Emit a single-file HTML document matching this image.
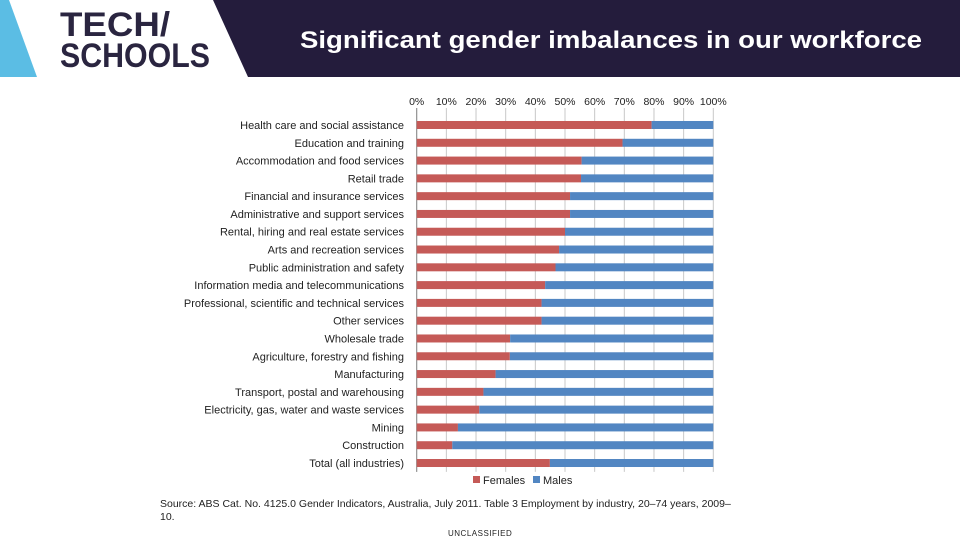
<!DOCTYPE html>
<html><head><meta charset="utf-8"><style>
body{margin:0;width:960px;height:540px;background:#fff;overflow:hidden;font-family:"Liberation Sans",sans-serif;position:relative}
.abs{position:absolute}
</style></head><body>
<svg class="abs" style="left:0;top:0" width="960" height="80">
<polygon points="0,0 9,0 37,77 0,77" fill="#5bbde4"/>
<polygon points="213,0 960,0 960,77 248,77" fill="#241c3c"/>
<text x="60" y="36" font-family="Liberation Sans" font-size="34" font-weight="bold" fill="#2a2540" textLength="110" lengthAdjust="spacingAndGlyphs">TECH/</text>
<text x="60" y="67" font-family="Liberation Sans" font-size="34" font-weight="bold" fill="#2a2540" textLength="150" lengthAdjust="spacingAndGlyphs">SCHOOLS</text>
<text x="611" y="48" text-anchor="middle" font-family="Liberation Sans" font-size="24" font-weight="bold" fill="#fff" textLength="622" lengthAdjust="spacingAndGlyphs">Significant gender imbalances in our workforce</text>
</svg>
<svg id="chart" class="abs" style="left:0;top:80" width="960" height="420"></svg>
<div class="abs" style="left:160px;top:498px;font-size:10.5px;color:#222;line-height:13px;width:580px">Source: ABS Cat. No. 4125.0 Gender Indicators, Australia, July 2011. Table 3 Employment by industry, 20–74 years, 2009–10.</div>
<div class="abs" style="left:448px;top:529px;font-size:8px;color:#222;letter-spacing:0.5px">UNCLASSIFIED</div>
<script>
const categories=["Health care and social assistance","Education and training","Accommodation and food services","Retail trade","Financial and insurance services","Administrative and support services","Rental, hiring and real estate services","Arts and recreation services","Public administration and safety","Information media and telecommunications","Professional, scientific and technical services","Other services","Wholesale trade","Agriculture, forestry and fishing","Manufacturing","Transport, postal and warehousing","Electricity, gas, water and waste services","Mining","Construction","Total (all industries)"];
const females=[79.2,69.4,55.6,55.4,51.7,51.7,50,48,46.8,43.3,42.1,42.1,31.5,31.4,26.6,22.5,21.1,13.9,12.0,44.9];
const males=[20.8,30.6,44.4,44.6,48.3,48.3,50,52,53.2,56.7,57.9,57.9,68.5,68.6,73.4,77.5,78.9,86.1,88.0,55.1];
const ticks=[0,10,20,30,40,50,60,70,80,90,100];
const NS="http://www.w3.org/2000/svg";
const svg=document.getElementById('chart');
const x0=416.7,x1=713.3,yTop=36.1,yBot=391.9,gridTop=28;
const xs=v=>x0+(x1-x0)*v/100;
const step=(yBot-yTop)/categories.length;
const yc=i=>yTop+step*(i+0.5);
function mk(t,a){const e=document.createElementNS(NS,t);for(const k in a)e.setAttribute(k,a[k]);svg.appendChild(e);return e;}
ticks.forEach(t=>{
 const g=mk('line',{x1:xs(t),x2:xs(t),y1:gridTop,y2:yBot,stroke:'#c8c8c8','stroke-width':1});
 
 
 const l=mk('text',{x:xs(t),y:25,'text-anchor':'middle','font-size':10.5,fill:'#222','font-family':'Liberation Sans'});
 l.textContent=t+'%';
 
 
});
const ax=mk('line',{x1:x0,x2:x0,y1:gridTop,y2:yBot,stroke:'#888','stroke-width':1});


categories.forEach((c,i)=>{
 const y=yc(i);
 const f=mk('rect',{x:xs(0),y:y-4,width:xs(females[i])-xs(0),height:8,fill:'#c55a57'});
 
 
 const m=mk('rect',{x:xs(females[i]),y:y-4,width:xs(females[i]+males[i])-xs(females[i]),height:8,fill:'#5286c2'});
 
 
 const l=mk('text',{x:404,y:y+4,'text-anchor':'end','font-size':11,fill:'#222','font-family':'Liberation Sans'});
 l.textContent=c;
 
 
});
[['Females','#c55a57',473],['Males','#5286c2',533]].forEach(([n,c,x])=>{
 const r=mk('rect',{x:x,y:396,width:7,height:7,fill:c});
 
 
 const t=mk('text',{x:x+10,y:404,'font-size':11,fill:'#222','font-family':'Liberation Sans'});
 t.textContent=n;
 
 
});
</script>
</body></html>
